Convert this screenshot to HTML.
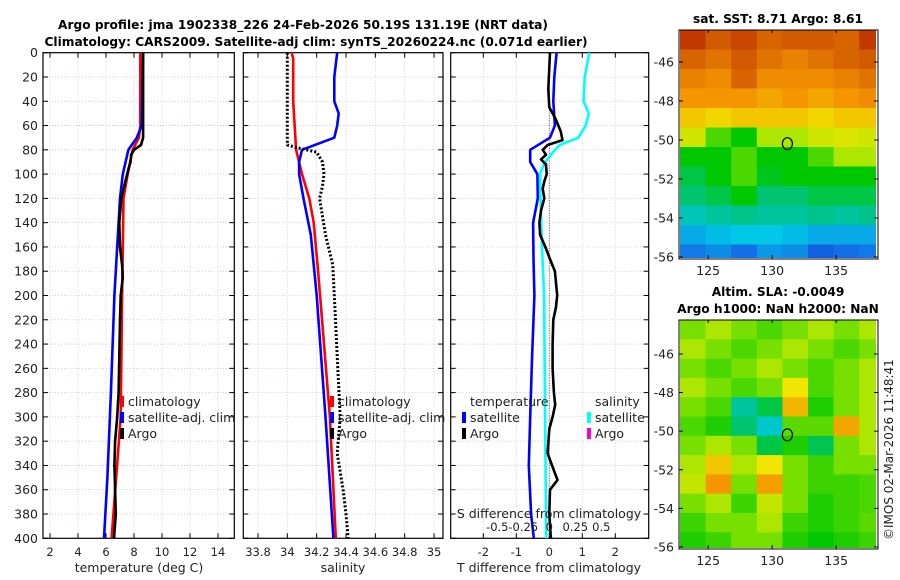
<!DOCTYPE html>
<html><head><meta charset="utf-8">
<style>
html,body{margin:0;padding:0;background:#fff;}
svg{display:block;font-family:"DejaVu Sans","Liberation Sans",sans-serif;}
</style></head>
<body>
<svg id="c" width="900" height="580" viewBox="0 0 900 580" xmlns="http://www.w3.org/2000/svg">
<text x="303" y="29" font-size="12.2" font-weight="bold" text-anchor="middle" fill="#000">Argo profile: jma 1902338_226 24-Feb-2026 50.19S 131.19E (NRT data)</text>
<text x="316" y="46" font-size="12.2" font-weight="bold" text-anchor="middle" fill="#000">Climatology: CARS2009. Satellite-adj clim: synTS_20260224.nc (0.071d earlier)</text>
<text x="778" y="23" font-size="12.2" font-weight="bold" text-anchor="middle">sat. SST: 8.71 Argo: 8.61</text>
<text x="778" y="296" font-size="12.2" font-weight="bold" text-anchor="middle">Altim. SLA: -0.0049</text>
<text x="778" y="313" font-size="12.2" font-weight="bold" text-anchor="middle">Argo h1000: NaN h2000: NaN</text>
<text transform="translate(893,540) rotate(-90)" font-size="12" fill="#222">©IMOS 02-Mar-2026 11:48:41</text>
<g id="g"></g>
</svg>
<script>
// ---- profile data (depth in m) ----
const tClimD=[0,60,70,80,100,120,160,200,300,400];
const tClimV=[8.45,8.45,8.35,7.9,7.55,7.25,7.2,7.15,7.05,6.4];
const tSatD=[0,60,70,80,100,120,160,200,280,350,400];
const tSatV=[8.65,8.55,8.2,7.6,7.2,7.0,6.8,6.6,6.35,6.1,5.86];
const tArgoD=[0,70,76,80,84,90,96,110,120,140,160,175,185,200,220,250,280,300,320,340,360,380,400];
const tArgoV=[8.65,8.65,8.5,8.0,7.8,7.75,7.6,7.3,7.1,6.95,7.0,7.15,7.2,7.05,7.0,6.95,6.9,6.8,6.65,6.6,6.65,6.7,6.57];
const sClimD=[0,5,40,80,100,120,140,180,240,300,400];
const sClimV=[34.03,34.04,34.04,34.06,34.1,34.15,34.18,34.21,34.25,34.29,34.33];
const sSatD=[0,20,40,50,60,70,80,90,100,120,150,200,300,400];
const sSatV=[34.34,34.32,34.32,34.35,34.34,34.32,34.1,34.08,34.08,34.11,34.16,34.2,34.26,34.314];
const sArgoD=[0,70,76,78,82,90,100,110,120,150,175,200,250,300,330,360,380,400];
const sArgoV=[34.0,34.0,34.0,34.06,34.2,34.24,34.25,34.24,34.22,34.26,34.31,34.32,34.34,34.36,34.34,34.38,34.4,34.415];
const dTSatD=[0,20,40,60,70,80,90,100,120,140,170,200,250,300,340,380,400];
const dTSatV=[0.22,0.15,0.12,0.17,0.02,-0.58,-0.58,-0.36,-0.35,-0.49,-0.48,-0.45,-0.52,-0.58,-0.62,-0.55,-0.47];
const dTArgoD=[0,30,45,55,65,72,76,80,84,88,92,100,106,112,120,130,140,150,160,170,180,200,210,220,240,260,280,290,300,310,330,345,352,360,380,400];
const dTArgoV=[0.02,-0.03,0,0.2,0.35,0.4,-0.05,-0.2,-0.1,-0.25,-0.1,-0.08,-0.15,-0.2,-0.15,-0.25,-0.3,-0.28,-0.12,0.02,0.17,0.24,0.2,0.12,0.1,0.1,0.14,0.18,0.1,0,-0.05,0.15,0.25,0.02,0,0.05];
const dSSatD=[0,20,40,50,60,70,76,80,90,100,120,160,200,300,400];
const dSSatV=[0.385,0.34,0.33,0.38,0.35,0.28,0.1,0.055,-0.04,-0.09,-0.085,-0.07,-0.05,-0.04,-0.03];
const depthTicks=[0,20,40,60,80,100,120,140,160,180,200,220,240,260,280,300,320,340,360,380,400];
const tTicks=[2,4,6,8,10,12,14];
const sTicks=[33.8,34,34.2,34.4,34.6,34.8,35];
const sTickLbl=["33.8","34","34.2","34.4","34.6","34.8","35"];
const dTTicks=[-2,-1,0,1,2];
const dSTicks=[-0.5,-0.25,0,0.25,0.5];
const dSTickLbl=["-0.5","-0.25","0","0.25","0.5"];
// ---- map data (value 0..1 on colormap), rows north->south, 1 deg rows, 2 deg cols ----
const mapLons=[123.8,125.8,127.8,129.8,131.8,133.8,135.8,137.8];
const sstGrid=[
[.95,.9,.93,.88,.9,.9,.88,.95],
[.88,.85,.9,.85,.82,.85,.88,.9],
[.82,.8,.88,.8,.8,.8,.82,.85],
[.78,.78,.78,.76,.78,.76,.78,.8],
[.72,.7,.72,.72,.72,.7,.72,.72],
[.65,.55,.5,.62,.62,.65,.66,.65],
[.5,.5,.55,.5,.5,.55,.62,.62],
[.45,.5,.55,.48,.5,.5,.5,.5],
[.42,.45,.5,.42,.42,.45,.45,.45],
[.35,.38,.4,.38,.38,.4,.38,.4],
[.25,.28,.3,.3,.28,.25,.25,.25],
[.17,.2,.15,.22,.2,.12,.15,.17]];
const slaGrid=[
[.58,.62,.58,.55,.58,.62,.58,.62],
[.62,.58,.55,.58,.62,.58,.55,.58],
[.58,.55,.58,.62,.58,.55,.58,.62],
[.62,.58,.55,.58,.68,.55,.58,.62],
[.58,.55,.38,.45,.74,.52,.58,.62],
[.55,.52,.42,.33,.56,.56,.76,.62],
[.58,.62,.58,.45,.52,.44,.58,.62],
[.62,.72,.62,.68,.58,.54,.58,.58],
[.64,.78,.58,.77,.58,.54,.54,.55],
[.58,.62,.54,.64,.58,.52,.54,.55],
[.54,.58,.58,.62,.54,.52,.54,.56],
[.52,.54,.58,.58,.52,.5,.52,.54]];
const mapLatTicks=[-46,-48,-50,-52,-54,-56];
const mapLonTicks=[125,130,135];
const argoLon=131.19, argoLat=-50.19;

const NS="http://www.w3.org/2000/svg";
const G=document.getElementById('g');
function mk(tag,attrs,parent){const e=document.createElementNS(NS,tag);for(const k in attrs)e.setAttribute(k,attrs[k]);(parent||G).appendChild(e);return e;}
function txt(x,y,s,size,anchor,parent){const t=mk('text',{x:x,y:y,'font-size':size,'text-anchor':anchor||'middle',fill:'#222'},parent);t.textContent=s;return t;}

const Y0=52.7,Y1=538.3;
function yD(d){return Y0+(d-0)*(Y1-Y0)/400;}

function panel(name,x0,x1,xf,ticks,labels,showY){
  const g=mk('g',{});
  
  
  depthTicks.forEach(d=>{ if(d>0&&d<400) mk('line',{x1:x0,x2:x1,y1:yD(d),y2:yD(d),stroke:'#b9bde6','stroke-width':0.8,'stroke-dasharray':'1,2'},g);
    mk('line',{x1:x0,x2:x0+5,y1:yD(d),y2:yD(d),stroke:'#000'},g);
    mk('line',{x1:x1-5,x2:x1,y1:yD(d),y2:yD(d),stroke:'#000'},g);
    if(showY){txt(x0-5,yD(d)+4.5,String(d),12.5,'end',g);}
  });
  ticks.forEach((v,i)=>{const x=xf(v);
    mk('line',{x1:x,x2:x,y1:Y0,y2:Y1,stroke:'#e0b8b8','stroke-width':0.8,'stroke-dasharray':'1,2'},g);
    mk('line',{x1:x,x2:x,y1:Y1-5,y2:Y1,stroke:'#000'},g);
    mk('line',{x1:x,x2:x,y1:Y0,y2:Y0+5,stroke:'#000'},g);
    if(labels) txt(x,556,labels[i],11.5,'middle',g);
  });
  mk('rect',{x:x0,y:Y0,width:x1-x0,height:Y1-Y0,fill:'none',stroke:'#000','stroke-width':1.2},g);
  return g;
}
function line(g,ds,vs,xf,color,w,dash,name){
  const pts=ds.map((d,i)=>xf(vs[i]).toFixed(1)+','+yD(d).toFixed(1)).join(' ');
  const p=mk('polyline',{points:pts,fill:'none',stroke:color,'stroke-width':w,'stroke-linejoin':'round'},g);
  if(dash)p.setAttribute('stroke-dasharray',dash);
  
  
}
const xT=v=>22+v*14;
const p1=panel('temperature-panel',43,234.3,xT,tTicks,tTicks.map(String),true);
line(p1,tClimD,tClimV,xT,'#ff0000',2.6,null,'temp-climatology-line');
line(p1,tSatD,tSatV,xT,'#0000ff',2.6,null,'temp-satellite-line');
line(p1,tArgoD,tArgoV,xT,'#000',2.6,null,'temp-argo-line');
txt(139,572,'temperature (deg C)',12.5,'middle',p1);
const xS=v=>258+(v-33.8)*146.7;
const p2=panel('salinity-panel',243.3,443,xS,sTicks,sTickLbl,false);
line(p2,sClimD,sClimV,xS,'#ff0000',2.6,null,'sal-climatology-line');
line(p2,sSatD,sSatV,xS,'#0000ff',2.6,null,'sal-satellite-line');
line(p2,sArgoD,sArgoV,xS,'#000',3,'2,2','sal-argo-line');
txt(343,572,'salinity',12.5,'middle',p2);
const xdT=v=>549.3+v*33;
const xdS=v=>549.3+v*104;
const p3=panel('difference-panel',450.7,648.7,xdT,dTTicks,dTTicks.map(String),false);
mk('line',{x1:549.3,x2:549.3,y1:Y0,y2:Y1,stroke:'#555','stroke-width':1,'stroke-dasharray':'1,1.5'},p3);
line(p3,dTSatD,dTSatV,xdT,'#0000ff',2.6,null,'tdiff-satellite-line');
line(p3,dSSatD,dSSatV,xdS,'#00ffff',2.6,null,'sdiff-satellite-line');
line(p3,dTArgoD,dTArgoV,xdT,'#000',2.6,null,'tdiff-argo-line');
dSTicks.forEach((v,i)=>txt(xdS(v),531,dSTickLbl[i],11.5,'middle',p3));
txt(549,518,'S difference from climatology',12.5,'middle',p3);
txt(549,572,'T difference from climatology',12.5,'middle',p3);
function leg(x,y,color,label,name){
  const g=mk('g',{});
  
  
  mk('rect',{x:x,y:y-10,width:4,height:11,fill:color},g);
  txt(x+8,y,label,12.5,'start',g);
}
leg(120,406,'#ff0000','climatology','legend-temp-climatology');
leg(120,422,'#0000ff','satellite-adj. clim','legend-temp-satellite');
leg(120,438,'#000','Argo','legend-temp-argo');
leg(330,406,'#ff0000','climatology','legend-sal-climatology');
leg(330,422,'#0000ff','satellite-adj. clim','legend-sal-satellite');
leg(330,438,'#000','Argo','legend-sal-argo');
txt(470,406,'temperature',12.5,'start',p3);
txt(595,406,'salinity',12.5,'start',p3);
leg(462,422,'#0000ff','satellite','legend-tdiff-satellite');
leg(462,438,'#000','Argo','legend-tdiff-argo');
leg(587,422,'#00ffff','satellite','legend-sdiff-satellite');
leg(587,438,'#ff00cc','Argo','legend-sdiff-argo');

const stops=[[0,[0,40,200]],[0.15,[20,110,230]],[0.3,[0,200,230]],[0.4,[0,195,140]],[0.5,[0,200,0]],[0.6,[150,230,0]],[0.68,[240,230,0]],[0.78,[245,150,0]],[0.9,[210,90,0]],[1,[180,20,0]]];
function cmap(v){v=Math.max(0,Math.min(1,v));for(let i=1;i<stops.length;i++){if(v<=stops[i][0]){const a=stops[i-1],b=stops[i],t=(v-a[0])/(b[0]-a[0]);return 'rgb('+a[1].map((c,k)=>Math.round(c+(b[1][k]-c)*t)).join(',')+')';}}return 'rgb(180,20,0)';}

function map(name,top,bot,latTop,pxPerLat,grid){
  const L=680,R=876,lon0=122.8,pxLon=12.8;
  const xL=lo=>L+(lo-lon0)*pxLon, yL=la=>top+(latTop-la)*pxPerLat;
  const g=mk('g',{});
  
  
  const cid='clip'+name;
  const cp=mk('clipPath',{id:cid},g);mk('rect',{x:L,y:top,width:R-L,height:bot-top},cp);
  const cells=mk('g',{'clip-path':'url(#'+cid+')'},g);
  grid.forEach((row,r)=>row.forEach((v,c)=>{
    const la=latTop-r, lo=mapLons[c]-1;
    const rc=mk('rect',{x:xL(lo).toFixed(1),y:yL(la).toFixed(1),width:(2*pxLon+0.6).toFixed(1),height:(pxPerLat+0.6).toFixed(1),fill:cmap(v)},cells);
    
    
  }));
  mk('rect',{x:L-1,y:top,width:R-L+3,height:bot-top+1,fill:'none',stroke:'#000','stroke-width':1},g);
  mapLatTicks.forEach(la=>{const y=yL(la);mk('line',{x1:L-1,x2:L+3,y1:y,y2:y,stroke:'#000'},g);mk('line',{x1:R-2,x2:R+2,y1:y,y2:y,stroke:'#000'},g);txt(L-6,y+4.5,String(la),12.5,'end',g);});
  mapLonTicks.forEach(lo=>{const x=xL(lo);mk('line',{x1:x,x2:x,y1:bot-3,y2:bot+1,stroke:'#000'},g);mk('line',{x1:x,x2:x,y1:top,y2:top+3,stroke:'#000'},g);txt(x,bot+17,String(lo),12.5,'middle',g);});
  const o=mk('ellipse',{cx:xL(argoLon),cy:yL(argoLat),rx:5,ry:6,fill:'none',stroke:'#000','stroke-width':1.2},g);
  
  
}
map('sst-map',30,258,-44.36,19.5,sstGrid);
map('sla-map',320,548,-44.24,19.3,slaGrid);
</script>
</body></html>
